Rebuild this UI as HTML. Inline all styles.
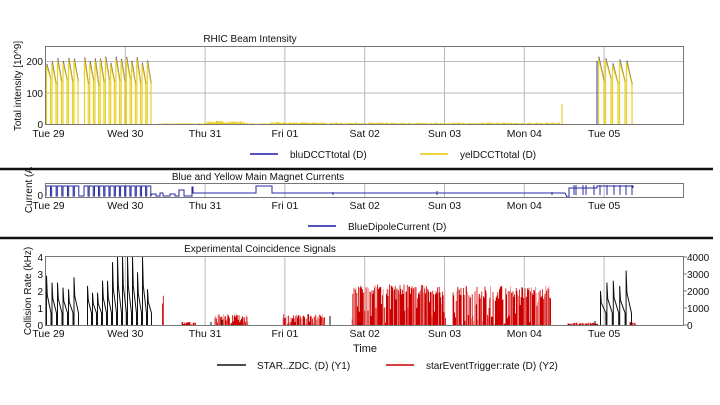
<!DOCTYPE html>
<html><head><meta charset="utf-8"><style>
html,body{margin:0;padding:0;background:#fff;}
svg{display:block;font-family:"Liberation Sans",sans-serif;}
</style></head><body>
<svg id="s" width="720" height="405" viewBox="0 0 720 405" xmlns="http://www.w3.org/2000/svg">
<rect width="720" height="405" fill="#fff"/>
<g id="grid" stroke="#bbb" stroke-width="1"></g>
<g id="data"></g>
<g fill="none" stroke="#777" stroke-width="1">
<rect x="45.5" y="46.5" width="638" height="78"/>
<rect x="45.5" y="183.5" width="638" height="14"/>
<rect x="45.5" y="256.5" width="638" height="69"/>
</g>
<g stroke="#111" stroke-width="2.5"><line x1="0" y1="169" x2="713" y2="169"/><line x1="0" y1="238" x2="713" y2="238"/></g>
<g font-size="10" fill="#111" text-anchor="middle">
<text x="250" y="42">RHIC Beam Intensity</text>
<text x="258" y="180">Blue and Yellow Main Magnet Currents</text>
<text x="260" y="252">Experimental Coincidence Signals</text>
<text x="365" y="352" font-size="11">Time</text>
</g>
<g font-size="10" fill="#111">
<text transform="translate(21,86) rotate(-90)" text-anchor="middle">Total intensity [10^9]</text>
<text transform="translate(32,190) rotate(-90)" text-anchor="middle">Current (A</text>
<text transform="translate(31,291) rotate(-90)" text-anchor="middle">Collision Rate (kHz)</text>
<g text-anchor="end">
<text x="43" y="65">200</text><text x="43" y="97">100</text><text x="43" y="128">0</text>
<text x="43" y="199">0</text>
<text x="43" y="261">4</text><text x="43" y="278">3</text><text x="43" y="295">2</text><text x="43" y="312">1</text><text x="43" y="329">0</text>
</g>
<g text-anchor="start">
<text x="687" y="261">4000</text><text x="687" y="278">3000</text><text x="687" y="295">2000</text><text x="687" y="312">1000</text><text x="687" y="329">0</text>
</g>
<g stroke="#777"><line x1="684" y1="257" x2="687" y2="257"/><line x1="684" y1="274" x2="687" y2="274"/><line x1="684" y1="291" x2="687" y2="291"/><line x1="684" y1="308" x2="687" y2="308"/><line x1="684" y1="325" x2="687" y2="325"/></g>
<g id="ticks" font-size="10.5" text-anchor="middle"></g>
<line x1="250" y1="154" x2="278" y2="154" stroke="#1a1aaa" stroke-width="1.5"/>
<text x="290" y="158">bluDCCTtotal (D)</text>
<line x1="420" y1="154" x2="448" y2="154" stroke="#e8c800" stroke-width="1.5"/>
<text x="460" y="158">yelDCCTtotal (D)</text>
<line x1="308" y1="226" x2="336" y2="226" stroke="#1a1aaa" stroke-width="1.5"/>
<text x="348" y="230">BlueDipoleCurrent (D)</text>
<line x1="217" y1="365" x2="246" y2="365" stroke="#111" stroke-width="1.5"/>
<text x="257" y="369">STAR..ZDC. (D) (Y1)</text>
<line x1="386" y1="365" x2="414" y2="365" stroke="#cc0000" stroke-width="1.5"/>
<text x="426" y="369">starEventTrigger:rate (D) (Y2)</text>
</g>
</svg>
<script>
var NS="http://www.w3.org/2000/svg";
function el(p,t,a){var e=document.createElementNS(NS,t);for(var k in a)e.setAttribute(k,a[k]);p.appendChild(e);return e;}
var seed=7;function r(){seed=(seed*16807)%2147483647;return seed/2147483647;}
var G=document.getElementById('grid'),D=document.getElementById('data'),T=document.getElementById('ticks');
var days=["Tue 29","Wed 30","Thu 31","Fri 01","Sat 02","Sun 03","Mon 04","Tue 05"];
var gx=function(i){return 45.5+i*79.8;};
[[46,125],[183,198],[256,325]].forEach(function(p){
 for(var i=1;i<8;i++)el(G,'line',{x1:gx(i),y1:p[0],x2:gx(i),y2:p[1]});
});
el(G,'line',{x1:45,y1:61.5,x2:683,y2:61.5});el(G,'line',{x1:45,y1:93,x2:683,y2:93});
[137,209,337].forEach(function(y){for(var i=0;i<8;i++){var t=el(T,'text',{x:gx(i)+(i==0?3:0),y:y});t.textContent=days[i];}});
// Panel 1
var y1=function(v){return 124-v*0.31;};
var blu="",yel="";
function fills(x0,x1,n){var w=(x1-x0)/n,x=x0;for(var i=0;i<n;i++){var pk=190+r()*25,lo=125+r()*25;var xs=x+0.5,xe=x+w-1;
 yel+="M"+xs+" 124L"+xs+" "+y1(pk)+"L"+xe+" "+y1(lo)+"L"+xe+" 124";
 blu+="M"+(xs+0.3)+" "+y1(pk+4)+"L"+(xe+0.3)+" "+y1(lo-2);x+=w;}}
fills(46,79,6);fills(84,152,13);fills(598,633,5);
var noise="";for(var x=160;x<560;x+=1.2){var v=(x>205&&x<245)?4+r()*6:(x>270&&x<325?2+r()*4:r()*3);if(x>330&&x<560)v=1+r()*4;noise+="M"+x+" 124L"+x+" "+y1(v);}
noise+="M562 124L562 104";
el(D,'path',{d:noise,stroke:"#e8c800","stroke-width":1,fill:"none"});
el(D,'path',{d:blu+"M597 124L597 61M597 61L597 118",stroke:"#2a2aa0","stroke-width":0.9,fill:"none"});
el(D,'path',{d:yel,stroke:"#e8c800","stroke-width":1.2,fill:"none","stroke-opacity":0.85});
// Panel 2
var p="M46 196";var hi=186,lo=196;
function pulses(x0,x1,n){var w=(x1-x0)/n;for(var i=0;i<n;i++){var a=x0+i*w;p+="L"+a+" "+lo+"L"+a+" "+hi+"L"+(a+w-1.2)+" "+hi+"L"+(a+w-1.2)+" "+lo;}}
pulses(46,80,6);pulses(84,152,13);
p+="L152 194L156 194L156 196L160 196L160 193L163 193L163 196L170 196L170 194L175 194L175 196L179 196L179 190L184 190L184 196L192 196L192 187L193 187L193 193L256 193L256 186L272 186L272 193L565 193L567 197L569 197L569 188L597 188L597 186L633 186L633 188";
var p2="";[574,576,583,586,594,600,607,614,620,626,632].forEach(function(x){p2+="M"+x+" 185L"+x+" 195";});
p2+="M333 192L333 195M437 191L437 195M552 192L552 195";
el(D,'path',{d:p,stroke:"#2a2aa0","stroke-width":1,fill:"none"});
el(D,'path',{d:p2,stroke:"#2a2aa0","stroke-width":1,fill:"none"});
// Panel 3
var y3=function(v){return 325-v*17;};
var red="",redL="";
function redblk(x0,x1,base,amp){for(var x=x0;x<x1;x+=0.8){var v=base+(r()-0.5)*amp;if(r()<0.3)v*=r();var s="M"+x.toFixed(1)+" 325L"+x.toFixed(1)+" "+y3(v).toFixed(1);if(r()<0.25)redL+=s;else red+=s;}}
redblk(162.5,164,2,0.1);redblk(182,196,0.15,0.05);redblk(215,248,0.5,0.3);redblk(283,325,0.5,0.3);redblk(352,446,2.1,0.6);redblk(453,551,1.9,0.8);redblk(568,598,0.1,0.08);redblk(630,636,0.15,0.05);
el(D,'path',{d:redL,stroke:"#f08080","stroke-width":0.8,fill:"none"});
el(D,'path',{d:red,stroke:"#cc0000","stroke-width":0.8,fill:"none"});
var blk="";
function spikes(x0,x1,pks){var n=pks.length,w=(x1-x0)/n;for(var i=0;i<n;i++){var a=x0+i*w+0.5,e=a+w-1;blk+="M"+a+" 325L"+a+" "+y3(pks[i])+"L"+(a+0.8)+" "+y3(pks[i]*0.5+0.3)+"L"+e+" "+y3(0.7)+"L"+e+" 325";}}
spikes(46,79,[2.9,2.5,2.5,2.2,2.1,2.8]);spikes(87,152,[2.3,1.9,1.9,2.6,2.6,3.7,4,4,4,4,3.1,4,2.1]);
spikes(600,632,[2,2.5,2.6,2.3,3.2]);
blk+="M211 325L211 322M222 325L222 320M330 325L330 316M360 325L360 323M595 325L595 321";
el(D,'path',{d:blk,stroke:"#111","stroke-width":1,fill:"none"});
</script>
</body></html>
